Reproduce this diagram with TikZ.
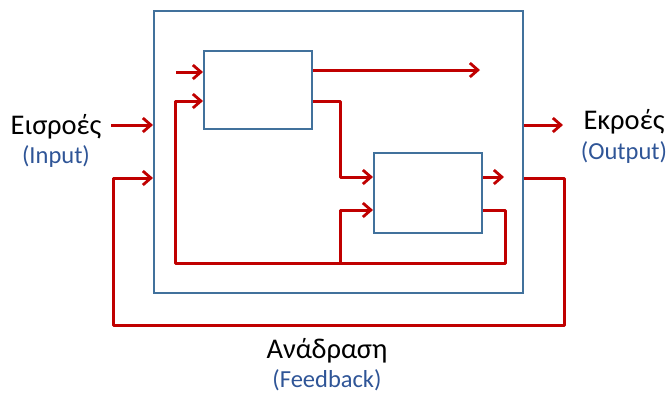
\documentclass[tikz,border=0pt]{standalone}
\usepackage{fontspec}
\setmainfont{Carlito}
\usetikzlibrary{arrows.meta}
\definecolor{redline}{HTML}{C00000}
\definecolor{boxblue}{HTML}{41719C}
\definecolor{txtblue}{HTML}{2F5597}
\begin{document}
\begin{tikzpicture}[x=1pt,y=-1pt,
  blk/.style={draw=boxblue,line width=1.9pt,anchor=north west,inner sep=0pt},
  sig/.style={draw=redline,line width=3pt,line join=round},
  arr/.style={sig,-{Straight Barb[length=8pt,width=14pt,line width=2.8pt]}},
  maintxt/.style={font=\fontsize{28.5}{32}\selectfont,text=black,inner sep=0pt},
  subtxt/.style={font=\fontsize{24.5}{28}\selectfont,text=txtblue,inner sep=0pt}]
\useasboundingbox (0,0) rectangle (670,392);
% boxes
\node[blk,minimum width=369pt,minimum height=282pt] (sys) at (153,10) {};
\node[blk,minimum width=108pt,minimum height=78pt] (b1) at (203,50) {};
\node[blk,minimum width=108pt,minimum height=80pt] (b2) at (373,152) {};
% coordinates
\coordinate (in1s) at (111,125);
\coordinate (in1e) at (sys.west |- in1s);
\coordinate (in2e) at (153,178);
\coordinate (fbL) at (113,178);
\coordinate (fbLB) at (113,325);
\coordinate (fbRB) at (564,325);
\coordinate (fbR) at (564,178);
\coordinate (fbRe) at (sys.east |- fbR);
\coordinate (outs) at (sys.east |- in1s);
\coordinate (oute) at (563,125);
\coordinate (a1s) at (176,72);
\coordinate (a1e) at (b1.west |- a1s);
\coordinate (a2e) at (203,101);
\coordinate (loopL) at (175,263);
\coordinate (loopR) at (505,263);
\coordinate (loopM) at (340,263);
\coordinate (o1s) at (b1.east |- 0,70);
\coordinate (o1e) at (480,70);
\coordinate (o2s) at (b1.east |- a2e);
\coordinate (c1) at (340,101);
\coordinate (c1b) at (340,177);
\coordinate (b2i1) at (b2.west |- c1b);
\coordinate (c2) at (340,210);
\coordinate (b2i2) at (b2.west |- c2);
\coordinate (b2o1s) at (b2.east |- c1b);
\coordinate (b2o1e) at (504,177);
\coordinate (b2o2s) at (b2.east |- c2);
\coordinate (c3) at (505,210);
% connectors
\draw[arr] (in1s) -- (in1e);
\draw[arr] (fbRe) -- (fbR) -- (fbRB) -- (fbLB) -- (fbL) -- (in2e);
\draw[arr] (outs) -- (oute);
\draw[arr] (a1s) -- (a1e);
\draw[arr] (o1s) -- (o1e);
\draw[arr] (o2s) -- (c1) -- (c1b) -- (b2i1);
\draw[arr] (b2o1s) -- (b2o1e);
\draw[arr] (b2o2s) -- (c3) -- (loopR) -- (loopL) -- (175,101) -- (a2e);
\draw[arr] (loopM) -- (c2) -- (b2i2);
% labels
\node[maintxt] (lin) at (56,127) {Εισροές};
\node[subtxt] (lins) at (56,157) {(Input)};
\node[maintxt] (lout) at (624,122) {Εκροές};
\node[subtxt] (louts) at (624,153) {(Output)};
\node[maintxt] (lfb) at (327,351) {Ανάδραση};
\node[subtxt] (lfbs) at (327,380) {(Feedback)};
\end{tikzpicture}
\end{document}
